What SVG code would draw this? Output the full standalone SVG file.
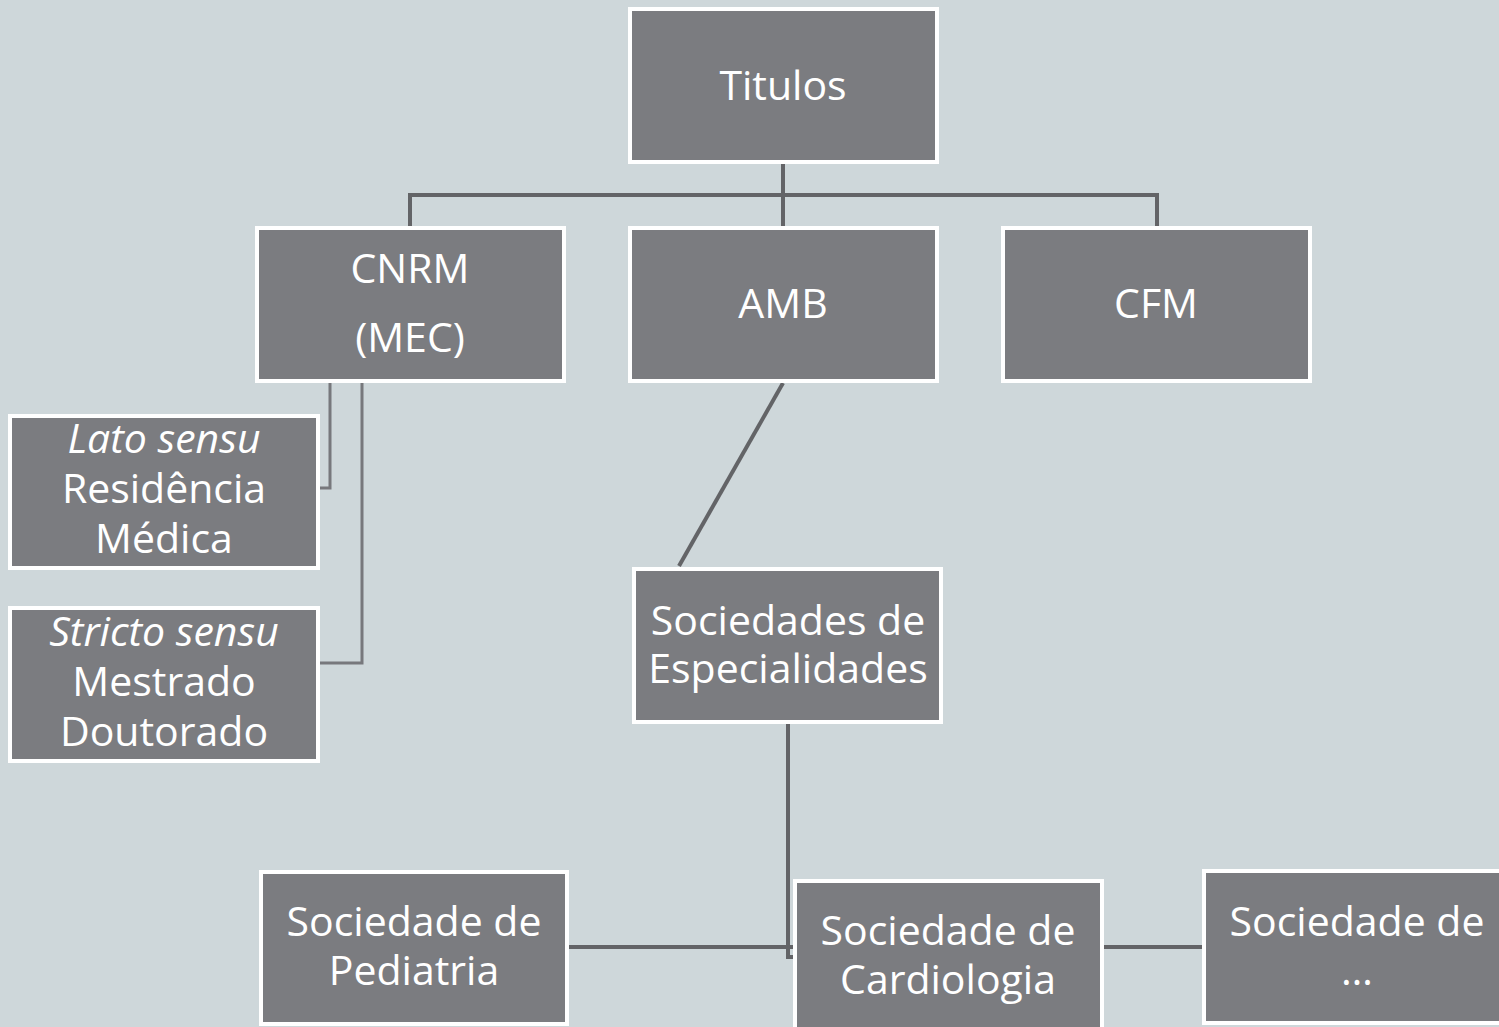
<svg xmlns="http://www.w3.org/2000/svg" width="1499" height="1027" viewBox="0 0 1499 1027">
<style>
.box{fill:#7b7c80;stroke:#ffffff;stroke-width:4}
.t{font-family:"Open Sans","Noto Sans","DejaVu Sans",sans-serif;font-size:41px;fill:#ffffff;text-anchor:middle}
.i{font-style:italic}
.c{fill:none;stroke:#636467;stroke-width:4}
.c2{fill:none;stroke:#77787c;stroke-width:3}
</style>
<rect width="1499" height="1027" fill="#ced7da"/>
<g id="connectors">
<path class="c" d="M783,162 V228 M410,228 V195 H1157 V228"/>
<path class="c2" d="M330,381 V488 H318 M362,381 V663 H318"/>
<path class="c" d="M783,383 L679,566"/>
<path class="c" d="M788,724 V957 H793 M568,947 H795 M1104,947 H1202"/>
</g>
<g id="titulos"><rect class="box" x="630" y="9" width="307" height="153"/><text class="t" x="783" y="100">Titulos</text></g>
<g id="cnrm"><rect class="box" x="257" y="228" width="307" height="153"/><text class="t" x="410" y="283">CNRM</text><text class="t" x="410" y="352">(MEC)</text></g>
<g id="amb"><rect class="box" x="630" y="228" width="307" height="153"/><text class="t" x="783" y="318">AMB</text></g>
<g id="cfm"><rect class="box" x="1003" y="228" width="307" height="153"/><text class="t" x="1156" y="318">CFM</text></g>
<g id="lato"><rect class="box" x="10" y="416" width="308" height="152"/><text class="t i" x="164" y="453">Lato sensu</text><text class="t" x="164" y="503">Residência</text><text class="t" x="164" y="553">Médica</text></g>
<g id="stricto"><rect class="box" x="10" y="608" width="308" height="153"/><text class="t i" x="164" y="646">Stricto sensu</text><text class="t" x="164" y="696">Mestrado</text><text class="t" x="164" y="746">Doutorado</text></g>
<g id="sociedades"><rect class="box" x="634" y="569" width="307" height="153"/><text class="t" x="788" y="635">Sociedades de</text><text class="t" x="788" y="683">Especialidades</text></g>
<g id="pediatria"><rect class="box" x="261" y="872" width="306" height="152"/><text class="t" x="414" y="936">Sociedade de</text><text class="t" x="414" y="985">Pediatria</text></g>
<g id="cardiologia"><rect class="box" x="795" y="881" width="307" height="156"/><text class="t" x="948" y="945">Sociedade de</text><text class="t" x="948" y="994">Cardiologia</text></g>
<g id="outra"><rect class="box" x="1204" y="871" width="310" height="152"/><text class="t" x="1357" y="936">Sociedade de</text><text class="t" x="1357" y="985">…</text></g>
</svg>
